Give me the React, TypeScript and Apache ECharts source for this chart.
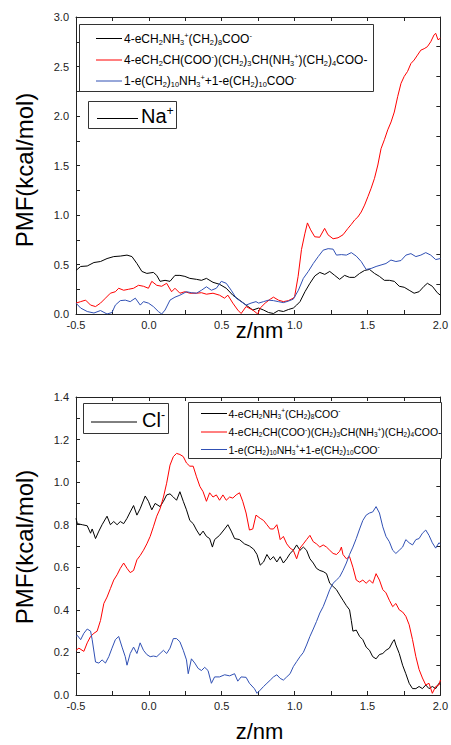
import React, { useEffect, useRef } from "react";
import * as echarts from "echarts";

// ---------- DATA (z in nm, PMF in kcal/mol) ----------
const xTicks = [-0.5, 0.0, 0.5, 1.0, 1.5, 2.0];

const naBlack: [number, number][] = [
  [-0.5, 0.44], [-0.468, 0.48], [-0.423, 0.485], [-0.377, 0.52], [-0.332, 0.53], [-0.287, 0.56],
  [-0.241, 0.58], [-0.196, 0.585], [-0.15, 0.595], [-0.116, 0.58], [-0.082, 0.51], [-0.048, 0.43],
  [-0.014, 0.41], [0.031, 0.42], [0.054, 0.39], [0.077, 0.33], [0.111, 0.34], [0.145, 0.33],
  [0.179, 0.39], [0.213, 0.39], [0.247, 0.38], [0.281, 0.36], [0.327, 0.35], [0.361, 0.34],
  [0.395, 0.36], [0.44, 0.32], [0.485, 0.3], [0.531, 0.26], [0.576, 0.19], [0.622, 0.14],
  [0.667, 0.09], [0.713, 0.04], [0.753, 0.06], [0.787, 0.04], [0.821, 0.015], [0.855, 0.005],
  [0.889, 0.035], [0.923, 0.025], [0.957, 0.045], [0.991, 0.06], [1.014, 0.09], [1.037, 0.125],
  [1.071, 0.225], [1.105, 0.31], [1.139, 0.385], [1.173, 0.42], [1.207, 0.4], [1.241, 0.43],
  [1.275, 0.39], [1.309, 0.35], [1.343, 0.39], [1.377, 0.37], [1.412, 0.37], [1.446, 0.41],
  [1.48, 0.44], [1.514, 0.45], [1.548, 0.41], [1.582, 0.38], [1.616, 0.34], [1.65, 0.34],
  [1.684, 0.33], [1.718, 0.28], [1.752, 0.27], [1.786, 0.24], [1.82, 0.21], [1.854, 0.225],
  [1.888, 0.28], [1.911, 0.31], [1.945, 0.28], [1.979, 0.215], [2.0, 0.19],
];

const naRed: [number, number][] = [
  [-0.5, 0.11], [-0.468, 0.125], [-0.434, 0.14], [-0.4, 0.09], [-0.366, 0.075], [-0.332, 0.11],
  [-0.298, 0.16], [-0.264, 0.21], [-0.23, 0.225], [-0.207, 0.26], [-0.173, 0.24], [-0.139, 0.25],
  [-0.105, 0.26], [-0.071, 0.29], [-0.037, 0.28], [-0.003, 0.26], [0.02, 0.33], [0.054, 0.29],
  [0.088, 0.28], [0.122, 0.31], [0.156, 0.225], [0.179, 0.26], [0.213, 0.21], [0.247, 0.225],
  [0.281, 0.21], [0.327, 0.21], [0.361, 0.215], [0.395, 0.2], [0.44, 0.21], [0.485, 0.19],
  [0.519, 0.16], [0.542, 0.19], [0.576, 0.11], [0.61, 0.04], [0.633, 0.005], [0.667, 0.075],
  [0.713, 0.04], [0.747, 0.0], [0.764, 0.06], [0.798, 0.11], [0.833, 0.15], [0.855, 0.17],
  [0.889, 0.14], [0.923, 0.125], [0.957, 0.135], [0.991, 0.16], [1.0, 0.175], [1.024, 0.38],
  [1.047, 0.65], [1.07, 0.81], [1.088, 0.92], [1.11, 0.85], [1.138, 0.78], [1.172, 0.775],
  [1.206, 0.865], [1.229, 0.8], [1.264, 0.76], [1.298, 0.77], [1.332, 0.8], [1.366, 0.865],
  [1.389, 0.905], [1.412, 0.95], [1.434, 0.98], [1.457, 1.03], [1.48, 1.1], [1.503, 1.185],
  [1.525, 1.27], [1.548, 1.37], [1.571, 1.505], [1.593, 1.67], [1.616, 1.76], [1.639, 1.86],
  [1.662, 1.94], [1.684, 2.04], [1.707, 2.195], [1.73, 2.33], [1.752, 2.4], [1.775, 2.45],
  [1.798, 2.53], [1.82, 2.565], [1.843, 2.615], [1.866, 2.665], [1.889, 2.68], [1.911, 2.7],
  [1.934, 2.75], [1.957, 2.82], [1.968, 2.835], [1.984, 2.77], [2.0, 2.785],
];

const naBlue: [number, number][] = [
  [-0.5, 0.11], [-0.468, 0.06], [-0.423, 0.025], [-0.377, 0.01], [-0.332, 0.035], [-0.287, 0.0],
  [-0.253, 0.015], [-0.23, 0.09], [-0.196, 0.135], [-0.162, 0.14], [-0.128, 0.125], [-0.093, 0.16],
  [-0.059, 0.09], [-0.037, 0.125], [-0.003, 0.11], [0.031, 0.075], [0.065, 0.025], [0.088, 0.0],
  [0.111, 0.04], [0.145, 0.14], [0.179, 0.17], [0.213, 0.19], [0.258, 0.225], [0.292, 0.215],
  [0.327, 0.21], [0.361, 0.24], [0.395, 0.275], [0.429, 0.24], [0.463, 0.26], [0.497, 0.33],
  [0.531, 0.31], [0.565, 0.24], [0.599, 0.16], [0.633, 0.125], [0.667, 0.09], [0.701, 0.11],
  [0.735, 0.125], [0.753, 0.11], [0.787, 0.125], [0.821, 0.14], [0.855, 0.135], [0.889, 0.125],
  [0.923, 0.115], [0.957, 0.13], [0.991, 0.15], [1.026, 0.24], [1.06, 0.36], [1.094, 0.43],
  [1.128, 0.51], [1.162, 0.58], [1.196, 0.645], [1.23, 0.66], [1.264, 0.655], [1.287, 0.595],
  [1.321, 0.6], [1.355, 0.595], [1.389, 0.62], [1.423, 0.585], [1.457, 0.53], [1.491, 0.45],
  [1.525, 0.46], [1.559, 0.48], [1.593, 0.495], [1.627, 0.51], [1.661, 0.545], [1.695, 0.53],
  [1.73, 0.54], [1.764, 0.595], [1.798, 0.61], [1.832, 0.58], [1.866, 0.595], [1.9, 0.62],
  [1.934, 0.595], [1.968, 0.55], [2.0, 0.56],
];

const clBlack: [number, number][] = [
  [-0.5, 0.83], [-0.491, 0.805], [-0.457, 0.8], [-0.423, 0.795], [-0.4, 0.76], [-0.389, 0.78],
  [-0.366, 0.735], [-0.343, 0.77], [-0.321, 0.8], [-0.287, 0.84], [-0.264, 0.8], [-0.241, 0.815],
  [-0.218, 0.8], [-0.196, 0.815], [-0.173, 0.805], [-0.15, 0.83], [-0.128, 0.86], [-0.105, 0.89],
  [-0.082, 0.845], [-0.06, 0.875], [-0.025, 0.935], [-0.003, 0.91], [0.02, 0.87], [0.043, 0.9],
  [0.077, 0.885], [0.1, 0.91], [0.122, 0.94], [0.145, 0.945], [0.168, 0.93], [0.19, 0.915],
  [0.213, 0.955], [0.236, 0.91], [0.258, 0.87], [0.281, 0.82], [0.304, 0.805], [0.327, 0.775],
  [0.35, 0.75], [0.372, 0.77], [0.395, 0.745], [0.417, 0.735], [0.436, 0.695], [0.451, 0.73],
  [0.485, 0.75], [0.52, 0.78], [0.542, 0.8], [0.565, 0.77], [0.588, 0.735], [0.622, 0.73],
  [0.656, 0.71], [0.69, 0.7], [0.719, 0.685], [0.742, 0.66], [0.764, 0.61], [0.787, 0.625],
  [0.81, 0.66], [0.833, 0.635], [0.855, 0.65], [0.878, 0.625], [0.901, 0.65], [0.923, 0.62],
  [0.946, 0.64], [0.969, 0.665], [0.991, 0.68], [1.014, 0.705], [1.037, 0.68], [1.06, 0.695],
  [1.082, 0.68], [1.105, 0.64], [1.128, 0.62], [1.15, 0.595], [1.173, 0.585], [1.196, 0.58],
  [1.219, 0.57], [1.241, 0.525], [1.264, 0.51], [1.287, 0.495], [1.309, 0.47], [1.332, 0.445],
  [1.355, 0.42], [1.377, 0.4], [1.389, 0.35], [1.4, 0.3], [1.423, 0.305], [1.446, 0.275],
  [1.468, 0.26], [1.491, 0.225], [1.514, 0.21], [1.536, 0.18], [1.559, 0.17], [1.582, 0.19],
  [1.605, 0.195], [1.627, 0.21], [1.65, 0.22], [1.673, 0.25], [1.684, 0.26], [1.695, 0.235],
  [1.718, 0.195], [1.741, 0.14], [1.763, 0.1], [1.786, 0.055], [1.809, 0.03], [1.832, 0.03],
  [1.854, 0.04], [1.877, 0.03], [1.9, 0.047], [1.922, 0.03], [1.945, 0.04], [1.968, 0.03],
  [1.99, 0.055], [2.0, 0.05],
];

const clRed: [number, number][] = [
  [-0.5, 0.21], [-0.48, 0.22], [-0.446, 0.205], [-0.423, 0.245], [-0.4, 0.275], [-0.377, 0.29],
  [-0.355, 0.3], [-0.332, 0.35], [-0.309, 0.43], [-0.287, 0.46], [-0.264, 0.5], [-0.241, 0.54],
  [-0.218, 0.565], [-0.196, 0.595], [-0.173, 0.62], [-0.15, 0.595], [-0.128, 0.575], [-0.105, 0.585],
  [-0.082, 0.635], [-0.06, 0.655], [-0.037, 0.68], [-0.014, 0.71], [0.009, 0.745], [0.031, 0.79],
  [0.054, 0.84], [0.077, 0.875], [0.1, 0.93], [0.122, 0.995], [0.145, 1.08], [0.168, 1.12],
  [0.19, 1.135], [0.213, 1.13], [0.236, 1.12], [0.258, 1.09], [0.281, 1.075], [0.304, 1.075],
  [0.327, 1.025], [0.35, 0.98], [0.372, 0.955], [0.395, 0.91], [0.417, 0.95], [0.44, 0.93],
  [0.463, 0.94], [0.485, 0.915], [0.508, 0.94], [0.531, 0.915], [0.554, 0.93], [0.576, 0.925],
  [0.599, 0.94], [0.622, 0.95], [0.644, 0.91], [0.667, 0.855], [0.69, 0.775], [0.713, 0.78],
  [0.735, 0.845], [0.764, 0.83], [0.787, 0.82], [0.81, 0.8], [0.833, 0.78], [0.855, 0.78],
  [0.878, 0.8], [0.889, 0.77], [0.901, 0.73], [0.923, 0.745], [0.946, 0.71], [0.969, 0.69],
  [0.991, 0.68], [1.014, 0.64], [1.037, 0.69], [1.06, 0.71], [1.082, 0.73], [1.105, 0.75],
  [1.128, 0.72], [1.15, 0.71], [1.173, 0.695], [1.196, 0.705], [1.219, 0.695], [1.241, 0.68],
  [1.264, 0.665], [1.287, 0.66], [1.309, 0.675], [1.321, 0.695], [1.332, 0.66], [1.355, 0.64],
  [1.377, 0.65], [1.4, 0.6], [1.423, 0.54], [1.446, 0.53], [1.468, 0.54], [1.491, 0.525],
  [1.514, 0.54], [1.536, 0.525], [1.559, 0.57], [1.582, 0.54], [1.605, 0.495], [1.627, 0.48],
  [1.65, 0.445], [1.673, 0.415], [1.695, 0.43], [1.718, 0.4], [1.741, 0.39], [1.763, 0.37],
  [1.786, 0.33], [1.809, 0.26], [1.832, 0.18], [1.854, 0.12], [1.877, 0.08], [1.9, 0.047],
  [1.922, 0.055], [1.945, 0.008], [1.968, 0.04], [1.99, 0.047], [2.0, 0.07],
];

const clBlue: [number, number][] = [
  [-0.5, 0.275], [-0.491, 0.28], [-0.468, 0.26], [-0.446, 0.29], [-0.423, 0.31], [-0.4, 0.3],
  [-0.389, 0.26], [-0.366, 0.155], [-0.343, 0.15], [-0.321, 0.165], [-0.298, 0.15], [-0.275, 0.18],
  [-0.253, 0.22], [-0.23, 0.26], [-0.207, 0.275], [-0.184, 0.225], [-0.162, 0.18], [-0.15, 0.14],
  [-0.128, 0.195], [-0.105, 0.225], [-0.082, 0.195], [-0.06, 0.245], [-0.037, 0.21], [-0.014, 0.19],
  [0.009, 0.18], [0.031, 0.183], [0.054, 0.18], [0.077, 0.195], [0.1, 0.21], [0.122, 0.195],
  [0.145, 0.22], [0.168, 0.265], [0.19, 0.265], [0.213, 0.25], [0.236, 0.21], [0.258, 0.165],
  [0.27, 0.1], [0.292, 0.17], [0.315, 0.15], [0.338, 0.125], [0.361, 0.115], [0.383, 0.13],
  [0.406, 0.115], [0.429, 0.055], [0.451, 0.085], [0.485, 0.085], [0.52, 0.095], [0.554, 0.09],
  [0.588, 0.1], [0.61, 0.065], [0.633, 0.085], [0.667, 0.083], [0.69, 0.055], [0.724, 0.03],
  [0.742, 0.008], [0.764, 0.023], [0.787, 0.04], [0.81, 0.055], [0.833, 0.07], [0.855, 0.085],
  [0.878, 0.095], [0.901, 0.078], [0.923, 0.07], [0.946, 0.085], [0.969, 0.1], [0.991, 0.133],
  [1.014, 0.157], [1.037, 0.18], [1.06, 0.2], [1.082, 0.235], [1.105, 0.275], [1.128, 0.31],
  [1.15, 0.345], [1.173, 0.385], [1.196, 0.415], [1.219, 0.455], [1.241, 0.495], [1.264, 0.525],
  [1.287, 0.54], [1.309, 0.555], [1.332, 0.585], [1.355, 0.62], [1.377, 0.66], [1.4, 0.695],
  [1.423, 0.735], [1.446, 0.78], [1.468, 0.82], [1.491, 0.845], [1.514, 0.855], [1.536, 0.86],
  [1.559, 0.885], [1.582, 0.855], [1.605, 0.79], [1.627, 0.745], [1.65, 0.72], [1.673, 0.68],
  [1.695, 0.665], [1.718, 0.68], [1.741, 0.695], [1.763, 0.73], [1.786, 0.715], [1.809, 0.705],
  [1.832, 0.73], [1.854, 0.735], [1.877, 0.76], [1.9, 0.775], [1.922, 0.75], [1.945, 0.715],
  [1.968, 0.69], [1.99, 0.715], [2.0, 0.71],
];

const legendTexts = [
  "4-eCH{b|2}NH{b|3}{p|+}(CH{b|2}){b|8}COO{p|-}",
  "4-eCH{b|2}CH(COO{p|-})(CH{b|2}){b|3}CH(NH{b|3}{p|+})(CH{b|2}){b|4}COO-",
  "1-e(CH{b|2}){b|10}NH{b|3}{p|+}+1-e(CH{b|2}){b|10}COO{p|-}",
];
const seriesColors = ["#000000", "#ff0000", "#3050b4"];
const yTitle = "PMF(kcal/mol)";
const xTitle = "z/nm";

const FONT = '"Liberation Sans", Arial, Helvetica, sans-serif';
const AX = "#222";

function richFor(size: number) {
  const s = Math.round(size * 0.62 * 10) / 10;
  return {
    b: { fontSize: s, fontFamily: FONT, fill: "#000", lineHeight: 6, verticalAlign: "bottom" },
    p: { fontSize: s, fontFamily: FONT, fill: "#000", lineHeight: 6, verticalAlign: "top" },
  };
}

function txt(x: number, y: number, text: string, size: number, extra: any = {}) {
  return {
    type: "text",
    x,
    y,
    z: 100,
    ...extra,
    style: {
      text,
      fontSize: size,
      fontFamily: FONT,
      fill: "#000",
      lineHeight: size + 2,
      rich: richFor(size),
      align: extra.align || "left",
      textAlign: extra.align || "left",
      verticalAlign: "middle",
      textVerticalAlign: "middle",
    },
  };
}

function hline(x1: number, x2: number, y: number, color: string) {
  return {
    type: "line",
    z: 100,
    shape: { x1, y1: y, x2, y2: y },
    style: { stroke: color, lineWidth: 1 },
  };
}

function box(x: number, y: number, w: number, h: number) {
  return {
    type: "rect",
    z: 99,
    shape: { x, y, width: w, height: h },
    style: { fill: "#fff", stroke: "#333", lineWidth: 1 },
  };
}

export default function App() {
  const ref = useRef<HTMLDivElement>(null);

  useEffect(() => {
    document.body.style.margin = "0";
    if (!ref.current) return;
    const chart = echarts.init(ref.current, undefined, { renderer: "svg" });

    const grids = [
      { left: 76, top: 17, width: 367, height: 297 },
      { left: 76, top: 397, width: 367, height: 298 },
    ];

    const tickStyle = { lineStyle: { color: AX, width: 1 } };
    const xAxes: any[] = [];
    const yAxes: any[] = [];
    const yRanges = [
      { max: 3.0, interval: 0.5 },
      { max: 1.4, interval: 0.2 },
    ];
    grids.forEach((_, gi) => {
      xAxes.push({
        type: "value",
        gridIndex: gi,
        position: "bottom",
        min: xTicks[0],
        max: xTicks[xTicks.length - 1],
        interval: 0.5,
        axisLine: { show: true, onZero: false, lineStyle: { color: AX, width: 1 } },
        axisTick: { show: true, inside: true, length: 4, ...tickStyle },
        minorTick: { show: true, splitNumber: 2, length: 4, ...tickStyle },
        axisLabel: {
          show: true,
          margin: 5,
          fontSize: 11,
          fontFamily: FONT,
          color: "#222",
          formatter: (v: number) => v.toFixed(1),
        },
        splitLine: { show: false },
      });
      xAxes.push({
        type: "value",
        gridIndex: gi,
        position: "top",
        min: -0.5,
        max: 2.0,
        interval: 0.25,
        axisLine: { show: true, onZero: false, lineStyle: { color: AX, width: 1 } },
        axisTick: { show: true, inside: true, length: 4, ...tickStyle },
        axisLabel: { show: false },
        splitLine: { show: false },
      });
      yAxes.push({
        type: "value",
        gridIndex: gi,
        position: "left",
        min: 0,
        max: yRanges[gi].max,
        interval: yRanges[gi].interval,
        axisLine: { show: true, onZero: false, lineStyle: { color: AX, width: 1 } },
        axisTick: { show: true, inside: true, length: 4, ...tickStyle },
        minorTick: { show: true, splitNumber: 2, length: 4, ...tickStyle },
        axisLabel: {
          show: true,
          margin: 7,
          fontSize: 11,
          fontFamily: FONT,
          color: "#222",
          formatter: (v: number) => v.toFixed(1),
        },
        splitLine: { show: false },
      });
      yAxes.push({
        type: "value",
        gridIndex: gi,
        position: "right",
        min: 0,
        max: 10,
        interval: 1,
        axisLine: { show: true, onZero: false, lineStyle: { color: AX, width: 1 } },
        axisTick: { show: true, inside: true, length: 4, ...tickStyle },
        axisLabel: { show: false },
        splitLine: { show: false },
      });
    });

    const mk = (name: string, data: [number, number][], color: string, gi: number) => ({
      type: "line",
      name,
      data,
      xAxisIndex: gi * 2,
      yAxisIndex: gi * 2,
      symbol: "none",
      showSymbol: false,
      lineStyle: { color, width: 1 },
      itemStyle: { color },
      z: 3,
    });

    const series = [
      mk("na-0", naBlack, seriesColors[0], 0),
      mk("na-1", naRed, seriesColors[1], 0),
      mk("na-2", naBlue, seriesColors[2], 0),
      mk("cl-0", clBlack, seriesColors[0], 1),
      mk("cl-1", clRed, seriesColors[1], 1),
      mk("cl-2", clBlue, seriesColors[2], 1),
    ];

    const topRows = [38.5, 60, 81];
    const botRows = [413.5, 432, 449.5];

    const graphic: any[] = [
      txt(24, 170, yTitle, 24, { rotation: Math.PI / 2, align: "center" }),
      txt(24, 547, yTitle, 24, { rotation: Math.PI / 2, align: "center" }),
      txt(259.5, 330, xTitle, 22, { align: "center" }),
      txt(259.5, 731, xTitle, 22, { align: "center" }),
      // top legend
      box(79.5, 24.5, 294, 67),
      ...topRows.map((y, i) => hline(96, 122, y, seriesColors[i])),
      ...topRows.map((y, i) => txt(124, y, legendTexts[i], 12)),
      // Na box
      box(88.5, 101.5, 88, 27),
      hline(97, 138, 118.5, "#000"),
      txt(141, 116, "Na{p|+}", 20),
      // Cl box
      box(83.5, 403.5, 85, 30),
      hline(91, 137, 422, "#000"),
      txt(142, 420, "Cl{p|-}", 20),
      // bottom legend
      box(188.5, 402.5, 253, 56),
      ...botRows.map((y, i) => hline(201, 227, y, seriesColors[i])),
      ...botRows.map((y, i) => txt(228.5, y, legendTexts[i], 10.5)),
    ];

    chart.setOption({
      animation: false,
      backgroundColor: "#fff",
      grid: grids,
      xAxis: xAxes,
      yAxis: yAxes,
      series,
      graphic,
    });

    return () => chart.dispose();
  }, []);

  return <div ref={ref} style={{ width: 451, height: 745 }} />;
}
